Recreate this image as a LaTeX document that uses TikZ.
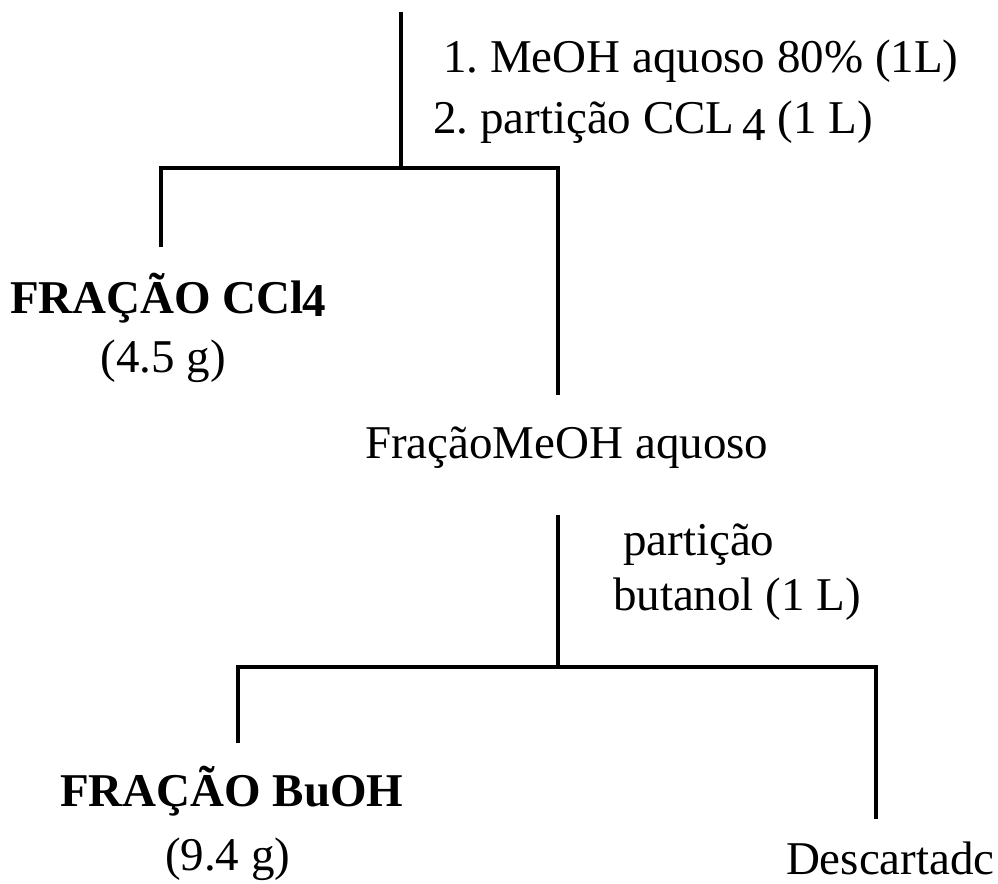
\documentclass[tikz,border=0pt]{standalone}
\usepackage{fontspec}
\setmainfont{Liberation Serif}
\begin{document}
\frenchspacing
\begin{tikzpicture}[x=1pt,y=-1pt,
  lbl/.style={inner sep=0pt,outer sep=0pt,font=\fontsize{47}{56}\selectfont},
  bld/.style={lbl,font=\fontsize{47}{56}\selectfont\bfseries},
  wire/.style={line width=3.2pt,line cap=butt,black}]
\useasboundingbox (0,0) rectangle (998,883);
% junctions
\coordinate (top) at (401,12);
\coordinate (j1) at (401,168);
\coordinate (j1l) at (161,168);
\coordinate (j1r) at (558,168);
\coordinate (e1l) at (161,247);
\coordinate (e1r) at (558,395);
\coordinate (s2) at (558,515);
\coordinate (j2) at (558,667);
\coordinate (j2l) at (238,667);
\coordinate (j2r) at (876,667);
\coordinate (e2l) at (238,743);
\coordinate (e2r) at (876,819);
% texts
\node[lbl,anchor=base west] (step1) at (443,73) {1. MeOH aquoso 80\% (1L)};
\node[lbl,anchor=base west] (step2) at (433,133) {2. partição CCL\,\raisebox{-7pt}{4} (1 L)};
\node[bld,anchor=base west] (ccl) at (10,313) {FRAÇÃO CCl\kern-1pt\raisebox{-3pt}{4}};
\node[lbl,anchor=base] (ccls) at (163,372) {(4.5 g)};
\node[lbl,anchor=base west] (meoh) at (365,458) {FraçãoMeOH aquoso};
\node[lbl,anchor=base west] (part1) at (623,555) {partição};
\node[lbl,anchor=base west] (part2) at (613,610) {butanol (1 L)};
\node[bld,anchor=base west] (buoh) at (60,806) {FRAÇÃO BuOH};
\node[lbl,anchor=base west] (buohs) at (165,870) {(9.4 g)};
\node[lbl,anchor=base west] (desc) at (786,874) {Descartadc};
% connectors
\draw[wire] (top) -- (j1);
\draw[wire] (e1l) -- (j1l) -- (j1r) -- (e1r);
\draw[wire] (s2) -- (j2);
\draw[wire] (e2l) -- (j2l) -- (j2r) -- (e2r);
\end{tikzpicture}
\end{document}
